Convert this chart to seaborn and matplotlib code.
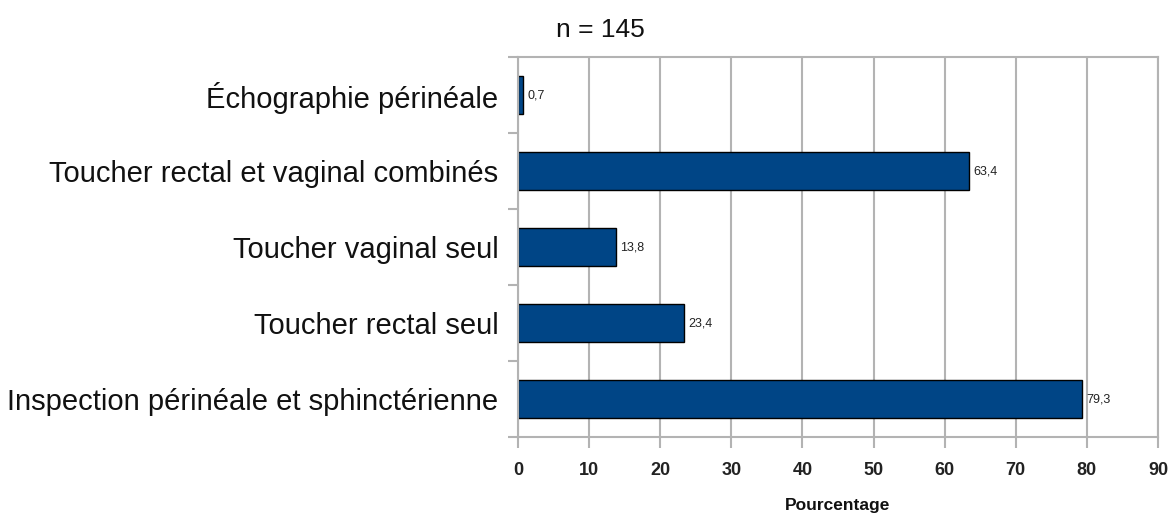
import numpy as np
import pandas as pd
import matplotlib
matplotlib.use('Agg')
import matplotlib.pyplot as plt
import seaborn as sns

# données
categories = [
    'Échographie périnéale',
    'Toucher rectal et vaginal combinés',
    'Toucher vaginal seul',
    'Toucher rectal seul',
    'Inspection périnéale et sphinctérienne',
]
pourcentages = [0.7, 63.4, 13.8, 23.4, 79.3]
labels_valeurs = ['0,7', '63,4', '13,8', '23,4', '79,3']
xticks = [0, 10, 20, 30, 40, 50, 60, 70, 80, 90]

sns.set_theme(style='white')
plt.rcParams['font.family'] = ['Liberation Sans', 'DejaVu Sans']

df = pd.DataFrame({'examen': categories, 'pct': pourcentages})

fig = plt.figure(figsize=(11.7, 5.17), dpi=100)
ax = fig.add_axes([0.4427, 0.1547, 0.547, 0.735])

sns.barplot(data=df, y='examen', x='pct', orient='h', color='#004586',
            saturation=1, width=0.5, edgecolor='black', linewidth=1.0, ax=ax)

ax.set_xlim(0, 90)
ax.set_ylim(len(categories) - 0.5, -0.5)
ax.set_xticks(xticks)
ax.set_xticklabels([str(v) for v in xticks], fontsize=13, fontweight='bold', color='#222222')
ax.grid(axis='x', color='#b3b3b3', linewidth=1.5)
ax.set_axisbelow(True)

for s in ax.spines.values():
    s.set_color('#b3b3b3')
    s.set_linewidth(1.5)

ax.tick_params(axis='x', which='major', bottom=True, length=8, width=1.5,
               color='#b3b3b3', direction='out', pad=10)
ax.tick_params(axis='y', which='major', left=False, length=0, labelsize=21, pad=14,
               labelcolor='#111111')
ax.set_yticks(np.arange(-0.5, len(categories), 1), minor=True)
ax.tick_params(axis='y', which='minor', left=True, length=7, width=1.5,
               color='#b3b3b3', direction='out')

for i, (v, t) in enumerate(zip(pourcentages, labels_valeurs)):
    ax.text(v + 0.6, i, t, va='center', ha='left', fontsize=9, color='#222222')

ax.set_ylabel('')
ax.set_xlabel('Pourcentage', fontsize=12.5, fontweight='bold', labelpad=14, color='#111111')

fig.text(600 / 1170, 1 - 30 / 517, 'n = 145', ha='center', va='center', fontsize=19,
         color='#111111')

fig.savefig('out.png', dpi=100, facecolor='white')
